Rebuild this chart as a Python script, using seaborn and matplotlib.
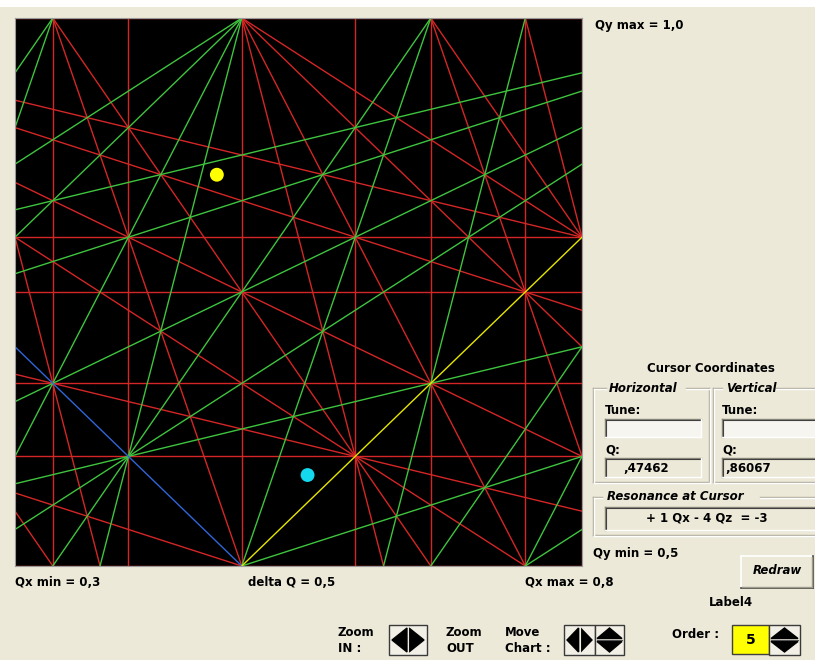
import math
import numpy as np
import pandas as pd
import matplotlib
matplotlib.use("Agg")
import matplotlib.pyplot as plt
from matplotlib.patches import Rectangle, Polygon
from matplotlib.lines import Line2D
import seaborn as sns

# ---- tune diagram settings ----
qx_limits = [0.3, 0.8]
qy_limits = [0.5, 1.0]
max_order = 5

# tune markers (Qx, Qy)
tune_names = ["tune A", "tune B"]
tune_qx = [0.478, 0.558]
tune_qy = [0.857, 0.583]
tune_colors = ["#ffff00", "#14d8ee"]

# read-outs shown in the side panel
cursor_qx_text = ",47462"
cursor_qy_text = ",86067"
cursor_resonance_text = "+ 1 Qx - 4 Qz  = -3"

family_colors = {
    "sum": "#d42626",
    "difference": "#3ec43e",
    "coupling sum": "#2f66d8",
    "coupling difference": "#e6e600",
}

BG = "#ECE9D8"
W, H = 815, 660


def box_segment(m, n, p):
    """End points of m*Qx + n*Qy = p inside the Qx/Qy window."""
    x0, x1 = qx_limits
    y0, y1 = qy_limits
    eps = 1e-9
    pts = []
    if n != 0:
        for x in (x0, x1):
            y = (p - m * x) / n
            if y0 - eps <= y <= y1 + eps:
                pts.append((x, y))
    if m != 0:
        for y in (y0, y1):
            x = (p - n * y) / m
            if x0 - eps <= x <= x1 + eps:
                pts.append((x, y))
    uniq = []
    for pt in pts:
        if all(abs(pt[0] - q[0]) > eps or abs(pt[1] - q[1]) > eps for q in uniq):
            uniq.append(pt)
    if len(uniq) < 2:
        return None
    best, dmax = None, -1
    for i in range(len(uniq)):
        for j in range(i + 1, len(uniq)):
            d = (uniq[i][0] - uniq[j][0]) ** 2 + (uniq[i][1] - uniq[j][1]) ** 2
            if d > dmax:
                dmax, best = d, (uniq[i], uniq[j])
    return best


# ---- enumerate resonance lines m*Qx + n*Qy = p up to the chosen order ----
rows = []
seen = set()
line_id = 0
for n in range(0, max_order + 1):
    for m in range(-max_order, max_order + 1):
        if not (1 <= abs(m) + abs(n) <= max_order):
            continue
        if n == 0 and m <= 0:
            continue
        corners = [m * x + n * y for x in qx_limits for y in qy_limits]
        for p in range(math.floor(min(corners)), math.ceil(max(corners)) + 1):
            g = math.gcd(math.gcd(abs(m), abs(n)), abs(p)) or 1
            key = (m // g, n // g, p // g)
            if key in seen:
                continue
            seg = box_segment(m, n, p)
            if seg is None:
                continue
            seen.add(key)
            if key == (1, 1, 1):
                fam = "coupling sum"
            elif key == (-1, 1, 0):
                fam = "coupling difference"
            elif m * n < 0:
                fam = "difference"
            else:
                fam = "sum"
            for (qx, qy) in seg:
                rows.append({"line": line_id, "qx": qx, "qy": qy, "family": fam})
            line_id += 1

lines_df = pd.DataFrame(rows)

# ---- figure ----
fig = plt.figure(figsize=(W / 100, H / 100), dpi=100, facecolor=BG)

# panel layer in pixel coordinates (y downwards)
gui = fig.add_axes([0, 0, 1, 1], zorder=0)
gui.set_xlim(0, W)
gui.set_ylim(H, 0)
gui.axis("off")

ax = fig.add_axes([15 / W, 1 - 566 / H, 567 / W, 548 / H], zorder=1)
ax.set_facecolor("black")

sns.lineplot(
    data=lines_df, x="qx", y="qy", hue="family", units="line",
    estimator=None, sort=False, palette=family_colors,
    hue_order=["sum", "difference", "coupling sum", "coupling difference"],
    linewidth=1.0, legend=False, ax=ax,
)
sns.scatterplot(
    x=tune_qx, y=tune_qy, hue=tune_names,
    palette=dict(zip(tune_names, tune_colors)),
    s=100, edgecolor="none", legend=False, ax=ax, zorder=5,
)
ax.set_xlim(*qx_limits)
ax.set_ylim(*qy_limits)
ax.set_xticks([])
ax.set_yticks([])
ax.set_xlabel("")
ax.set_ylabel("")
for sp in ax.spines.values():
    sp.set_color("#9a9a9a")
    sp.set_linewidth(0.8)

# ---- panel widgets ----
FONT = "DejaVu Sans"


def label(x, y, s, ha="left", style="normal", size=8.5, color="black"):
    gui.text(x, y, s, ha=ha, va="center", fontsize=size, fontweight="bold",
             fontstyle=style, family=FONT, color=color)


def hline(x0, x1, y, c, lw=1.0):
    gui.add_line(Line2D([x0, x1], [y, y], color=c, lw=lw))


def vline(x, y0, y1, c, lw=1.0):
    gui.add_line(Line2D([x, x], [y0, y1], color=c, lw=lw))


def sunken_box(x0, y0, x1, y1, face=BG):
    gui.add_patch(Rectangle((x0, y0), x1 - x0, y1 - y0, facecolor=face, edgecolor="none"))
    hline(x0, x1, y0, "#8a877a")
    vline(x0, y0, y1, "#8a877a")
    hline(x0 + 1, x1, y0 + 1, "#404040", 0.8)
    vline(x0 + 1, y0 + 1, y1, "#404040", 0.8)
    hline(x0, x1, y1, "white")
    vline(x1, y0, y1, "white")


def raised_button(x0, y0, x1, y1):
    gui.add_patch(Rectangle((x0, y0), x1 - x0, y1 - y0, facecolor=BG, edgecolor="none"))
    hline(x0, x1, y0, "white", 1.2)
    vline(x0, y0, y1, "white", 1.2)
    hline(x0, x1, y1, "#404040", 1.2)
    vline(x1, y0, y1, "#404040", 1.2)
    hline(x0 + 1, x1 - 1, y1 - 1, "#9d9a8c", 1.0)
    vline(x1 - 1, y0 + 1, y1 - 1, "#9d9a8c", 1.0)


def etched_frame(x0, y0, x1, y1, gap):
    g0, g1 = gap
    for off, c in ((0, "#aca899"), (1, "white")):
        hline(x0 + off, g0, y0 + off, c)
        hline(g1, x1 + off, y0 + off, c)
        vline(x0 + off, y0 + off, y1 + off, c)
        hline(x0 + off, x1 + off, y1 + off, c)
        vline(x1 + off, y0 + off, y1 + off, c)


def arrow_box(x0, y0, x1, y1):
    gui.add_patch(Rectangle((x0, y0), x1 - x0, y1 - y0, facecolor="#f2f0e6",
                            edgecolor="#3a3a3a", lw=1.0))


def lr_arrows(x0, y0, x1, y1):
    cx = (x0 + x1) / 2
    t, b = y0 + 3, y1 - 3
    mid = (y0 + y1) / 2
    gui.add_patch(Polygon([[cx - 1, t], [cx - 1, b], [x0 + 3, mid]], closed=True, color="black"))
    gui.add_patch(Polygon([[cx + 1, t], [cx + 1, b], [x1 - 3, mid]], closed=True, color="black"))
    vline(cx, y0 + 2, y1 - 2, "#f2f0e6", 0.8)


def ud_arrows(x0, y0, x1, y1):
    cy = (y0 + y1) / 2
    gui.add_patch(Polygon([[x0 + 2, cy - 1.5], [x1 - 2, cy - 1.5], [(x0 + x1) / 2, y0 + 3]],
                          closed=True, color="black"))
    gui.add_patch(Polygon([[x0 + 2, cy + 1.5], [x1 - 2, cy + 1.5], [(x0 + x1) / 2, y1 - 3]],
                          closed=True, color="black"))
    hline(x0 + 2, x1 - 2, cy, "#505050", 0.8)


# thin white strip along the top of the window
gui.add_patch(Rectangle((0, 0), W, 7, facecolor="white", edgecolor="none"))

label(595, 25, "Qy max = 1,0")

label(711, 368, "Cursor Coordinates", ha="center")
etched_frame(593, 388, 709, 482, (606, 686))
label(609, 388, "Horizontal", style="italic")
etched_frame(713, 388, 830, 482, (722, 776))
label(726, 388, "Vertical", style="italic")

label(605, 410, "Tune:")
sunken_box(605, 419, 701, 437, face="#f6f5f0")
label(605, 450, "Q:")
sunken_box(605, 458, 701, 477)
label(646, 468, cursor_qx_text, ha="center")

label(722, 410, "Tune:")
sunken_box(722, 419, 830, 437, face="#f6f5f0")
label(722, 450, "Q:")
sunken_box(722, 458, 830, 477)
label(748, 468, cursor_qy_text, ha="center")

etched_frame(593, 497, 830, 535, (602, 760))
label(607, 497, "Resonance at Cursor", style="italic")
sunken_box(605, 507, 830, 530)
label(707, 518, cursor_resonance_text, ha="center")

label(593, 553, "Qy min = 0,5")
raised_button(741, 556, 813, 588)
label(777, 571, "Redraw", ha="center", style="italic")

label(15, 582, "Qx min = 0,3")
label(248, 582, "delta Q = 0,5")
label(525, 582, "Qx max = 0,8")
label(731, 603, "Label4", ha="center")

label(338, 633, "Zoom")
label(338, 648, "IN :")
arrow_box(389, 625, 427, 655)
lr_arrows(389, 625, 427, 655)

label(446, 633, "Zoom")
label(446, 648, "OUT")

label(505, 633, "Move")
label(505, 648, "Chart :")
arrow_box(564, 625, 595, 655)
lr_arrows(564, 625, 595, 655)
arrow_box(595, 625, 624, 655)
ud_arrows(595, 625, 624, 655)

label(672, 634, "Order :")
gui.add_patch(Rectangle((732, 625), 37, 29, facecolor="#ffff00", edgecolor="#404040", lw=1.0))
label(750.5, 640, "5", ha="center", size=10)
arrow_box(769, 625, 800, 655)
ud_arrows(769, 625, 800, 655)

fig.savefig("out.png", dpi=100, facecolor=BG)
